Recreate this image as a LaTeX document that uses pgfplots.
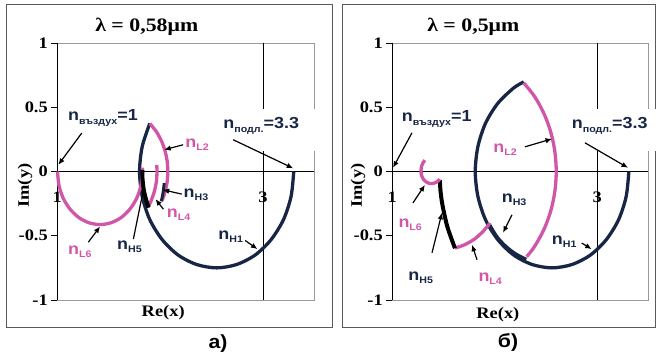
\documentclass[border=0pt]{standalone}
\usepackage{fontspec}
\setmainfont{Liberation Serif}[FakeStretch=1.15]
\newfontfamily\sansb{Liberation Sans}[FakeStretch=1.12]
\usepackage{pgfplots}
\pgfplotsset{compat=1.18}
\usetikzlibrary{arrows.meta}
\definecolor{navy}{RGB}{24,38,70}
\definecolor{pinkc}{RGB}{210,86,168}
\newcommand{\nsub}[1]{\raisebox{-3.5pt}{\fontsize{9.5}{9.5}\selectfont #1}}
\tikzset{
  lab/.style={font=\sansb\bfseries\fontsize{16}{16}\selectfont, inner sep=0pt},
  arr/.style={-{Latex[length=6.5pt,width=5.5pt]}, line width=1.2pt, black},
  ser/.style={font=\bfseries\fontsize{16}{16}\selectfont, inner sep=0pt},
}
\pgfplotsset{panel/.style={
  scale only axis, width=257pt, height=257pt,
  xmin=1, xmax=3.5, ymin=-1, ymax=1, clip=false,
  axis line style={draw=black!40, line width=0.8pt},
  xtick=\empty,
  ytick={-1,-0.5,0,0.5,1}, yticklabels={-1,-0.5,0,0.5,1},
  ytick pos=left, tick align=outside, major tick length=6pt,
  tick style={black, line width=0.8pt},
  yticklabel style={font=\bfseries\fontsize{16}{16}\selectfont},
}}
\begin{document}
\begin{tikzpicture}[x=1pt,y=1pt]
\path[use as bounding box] (0,0) rectangle (658,355);
\draw[black!65, line width=1pt] (6,350) rectangle (332,27);
\draw[black!65, line width=1pt] (342,350) rectangle (655,27);
\node[font=\sansb\bfseries\fontsize{19}{19}\selectfont] at (218,11) {а)};
\node[font=\sansb\bfseries\fontsize{19}{19}\selectfont] at (508,12) {б)};

% ---------------- panel a ----------------
\begin{axis}[panel, at={(57.3pt,55pt)}, anchor=south west, width=257pt]
\draw[black, line width=0.8pt] (axis cs:1,-1) -- (axis cs:1,1);
\draw[black, line width=0.8pt] (axis cs:1,0) -- (axis cs:3.5,0);
\draw[black, line width=0.8pt] (axis cs:3,-1) -- (axis cs:3,1);
% H1
\addplot[navy, line width=3.3pt, smooth, no markers] coordinates {
(3.300,0) (3.274,-0.194) (3.200,-0.375) (3.080,-0.530) (2.925,-0.650) (2.744,-0.724) (2.550,-0.750) (2.356,-0.724) (2.175,-0.650) (2.020,-0.530) (1.900,-0.375) (1.826,-0.194) (1.800,0) (1.826,0.194) (1.900,0.375)};
% L2
\addplot[pinkc, line width=3.3pt, smooth, no markers] coordinates {
(1.900,0.373) (1.962,0.312) (2.010,0.243) (2.046,0.166) (2.068,0.084) (2.075,0) (2.068,-0.084) (2.046,-0.166) (2.018,-0.228)};
% H3
\addplot[navy, line width=3pt, smooth, no markers] coordinates {
(2.040,-0.090) (2.030,-0.160) (2.012,-0.232)};
% L4
\addplot[pinkc, line width=3.3pt, smooth, no markers] coordinates {
(1.967,0.050) (1.970,0) (1.963,-0.083) (1.941,-0.164) (1.906,-0.240) (1.883,-0.275)};
% L6
\addplot[pinkc, line width=3.3pt, smooth, no markers] coordinates {
(1.827,0.029) (1.828,0) (1.814,-0.107) (1.773,-0.207) (1.707,-0.292) (1.622,-0.358) (1.522,-0.399) (1.415,-0.413) (1.308,-0.399) (1.209,-0.358) (1.123,-0.292) (1.057,-0.207) (1.016,-0.107) (1.002,0)};
% H5
\addplot[black, line width=4pt, smooth, no markers] coordinates {
(1.888,-0.281) (1.859,-0.205) (1.838,-0.127) (1.828,-0.046) (1.827,0.010)};

\node[ser] at (axis cs:1,-0.2) {1};
\node[ser] at (axis cs:3,-0.2) {3};
\node[font=\bfseries\fontsize{19}{19}\selectfont] at (axis cs:1.87,1.126) {λ = 0,58μm};
\node[font=\bfseries\fontsize{16}{16}\selectfont] at (axis cs:2.03,-1.10) {Re(x)};
\node[font=\bfseries\fontsize{16}{16}\selectfont, rotate=90] at (axis cs:0.686,-0.11) {Im(y)};

\node[lab, navy, anchor=west] at (axis cs:1.104,0.418) {n\nsub{въздух}=1};
\draw[arr] (axis cs:1.238,0.299) -- (axis cs:1.01,0.052);
\fill[white] (axis cs:2.555,0.16) rectangle (axis cs:3.55,0.49);
\node[lab, navy, anchor=west] at (axis cs:2.614,0.356) {n\nsub{подл.}=3.3};
\draw[arr] (axis cs:2.711,0.247) -- (axis cs:3.295,0.025);
\node[lab, pinkc, anchor=west] at (axis cs:2.244,0.208) {n\nsub{L2}};
\draw[arr] (axis cs:2.224,0.208) -- (axis cs:2.04,0.169);
\node[lab, navy, anchor=west] at (axis cs:2.227,-0.181) {n\nsub{H3}};
\draw[arr] (axis cs:2.211,-0.176) -- (axis cs:2.025,-0.142);
\node[lab, pinkc, anchor=west] at (axis cs:2.065,-0.337) {n\nsub{L4}};
\draw[arr] (axis cs:2.032,-0.293) -- (axis cs:1.955,-0.215);
\node[lab, navy, anchor=west] at (axis cs:1.581,-0.586) {n\nsub{H5}};
\draw[arr] (axis cs:1.740,-0.526) -- (axis cs:1.844,-0.117);
\node[lab, pinkc, anchor=west] at (axis cs:1.104,-0.625) {n\nsub{L6}};
\draw[arr] (axis cs:1.302,-0.55) -- (axis cs:1.416,-0.428);
\node[lab, navy, anchor=west] at (axis cs:2.565,-0.508) {n\nsub{H1}};
\draw[arr] (axis cs:2.828,-0.537) -- (axis cs:2.947,-0.604);
\end{axis}

% ---------------- panel b ----------------
\begin{axis}[panel, at={(392.3pt,55pt)}, anchor=south west, width=256pt]
\draw[black, line width=0.8pt] (axis cs:1,-1) -- (axis cs:1,1);
\draw[black, line width=0.8pt] (axis cs:1,0) -- (axis cs:3.5,0);
\draw[black, line width=0.8pt] (axis cs:3,-1) -- (axis cs:3,1);
% H1
\addplot[navy, line width=3.3pt, smooth, no markers] coordinates {
(3.310,0) (3.284,-0.194) (3.210,-0.375) (3.090,-0.530) (2.935,-0.650) (2.754,-0.724) (2.560,-0.750) (2.366,-0.724) (2.185,-0.650) (2.030,-0.530) (1.910,-0.375) (1.836,-0.194) (1.810,0) (1.836,0.194) (1.910,0.375) (2.030,0.530) (2.185,0.650) (2.284,0.697)};
% L2
\addplot[pinkc, line width=3.3pt, smooth, no markers] coordinates {
(2.283,0.690) (2.389,0.584) (2.479,0.454) (2.546,0.311) (2.587,0.158) (2.601,0) (2.587,-0.158) (2.546,-0.311) (2.479,-0.454) (2.389,-0.584) (2.312,-0.664)};
% H3
\addplot[navy, line width=3.6pt, smooth, no markers] coordinates {
(2.308,-0.685) (2.203,-0.642) (2.107,-0.583) (2.021,-0.509) (1.945,-0.410)};
% L4
\addplot[pinkc, line width=3.3pt, smooth, no markers] coordinates {
(1.953,-0.402) (1.888,-0.465) (1.802,-0.526) (1.706,-0.570) (1.612,-0.596)};
% H5
\addplot[black, line width=4pt, smooth, no markers] coordinates {
(1.612,-0.597) (1.538,-0.431) (1.490,-0.262) (1.471,-0.153) (1.464,-0.066)};
% L6
\addplot[pinkc, line width=3.3pt, smooth, no markers] coordinates {
(1.465,-0.060) (1.433,-0.082) (1.390,-0.094) (1.345,-0.088) (1.305,-0.062) (1.282,-0.020) (1.283,0.030) (1.298,0.065) (1.319,0.088)};

\node[ser] at (axis cs:1,-0.2) {1};
\node[ser] at (axis cs:3,-0.2) {3};
\node[font=\bfseries\fontsize{19}{19}\selectfont] at (axis cs:1.791,1.126) {λ = 0,5μm};
\node[font=\bfseries\fontsize{16}{16}\selectfont] at (axis cs:2.031,-1.115) {Re(x)};
\node[font=\bfseries\fontsize{16}{16}\selectfont, rotate=90] at (axis cs:0.665,-0.11) {Im(y)};

\node[lab, navy, anchor=west] at (axis cs:1.092,0.41) {n\nsub{въздух}=1};
\draw[arr] (axis cs:1.192,0.301) -- (axis cs:1.007,0.029);
\fill[white] (axis cs:2.716,0.16) rectangle (axis cs:3.584,0.49);
\node[lab, navy, anchor=west] at (axis cs:2.752,0.356) {n\nsub{подл.}=3.3};
\draw[arr] (axis cs:2.882,0.223) -- (axis cs:3.302,0.029);
\node[lab, pinkc, anchor=west] at (axis cs:1.986,0.169) {n\nsub{L2}};
\draw[arr] (axis cs:2.296,0.192) -- (axis cs:2.56,0.254);
\node[lab, navy, anchor=west] at (axis cs:2.068,-0.22) {n\nsub{H3}};
\draw[arr] (axis cs:2.169,-0.337) -- (axis cs:2.081,-0.477);
\node[lab, navy, anchor=west] at (axis cs:2.557,-0.547) {n\nsub{H1}};
\draw[arr] (axis cs:2.85,-0.557) -- (axis cs:2.947,-0.604);
\node[lab, pinkc, anchor=west] at (axis cs:1.059,-0.415) {n\nsub{L6}};
\draw[arr] (axis cs:1.202,-0.244) -- (axis cs:1.319,-0.104);
\node[lab, navy, anchor=west] at (axis cs:1.156,-0.827) {n\nsub{H5}};
\draw[arr] (axis cs:1.388,-0.633) -- (axis cs:1.485,-0.321);
\node[lab, pinkc, anchor=west] at (axis cs:1.84,-0.835) {n\nsub{L4}};
\draw[arr] (axis cs:1.827,-0.687) -- (axis cs:1.778,-0.57);
\end{axis}
\end{tikzpicture}
\end{document}
